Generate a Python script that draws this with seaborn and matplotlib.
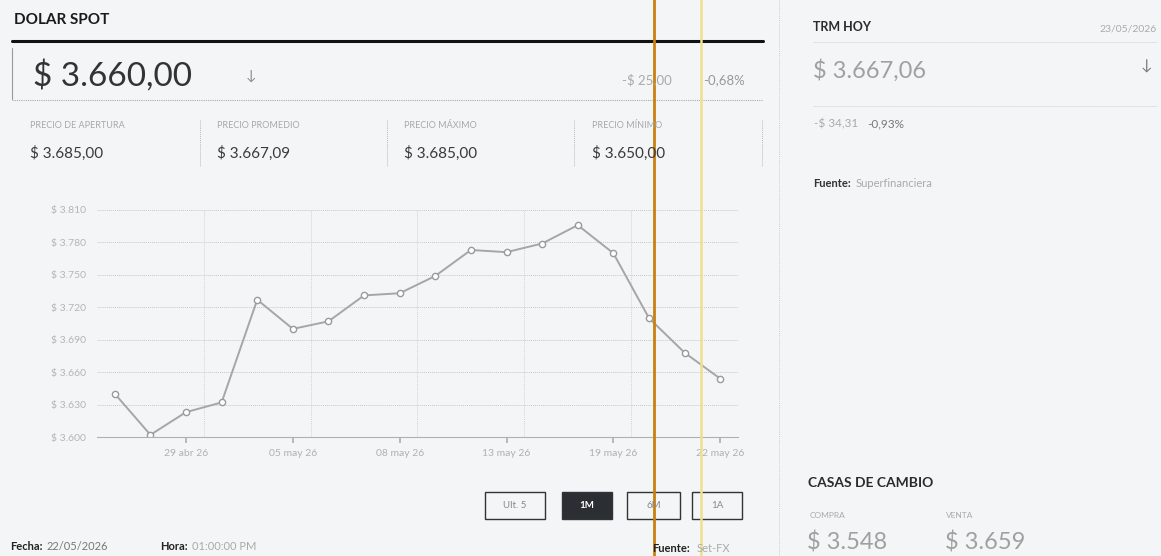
import numpy as np
import pandas as pd
import matplotlib
matplotlib.use("Agg")
import matplotlib.pyplot as plt
import seaborn as sns
from matplotlib.ticker import FuncFormatter, FixedLocator

# datos del grafico (1M)
fechas = ['27 abr 26', '28 abr 26', '29 abr 26', '30 abr 26', '04 may 26', '05 may 26',
          '06 may 26', '07 may 26', '08 may 26', '11 may 26', '12 may 26', '13 may 26',
          '14 may 26', '15 may 26', '19 may 26', '20 may 26', '21 may 26', '22 may 26']
precios = [3640, 3602, 3623, 3632, 3727, 3700, 3707, 3731, 3733, 3749, 3773, 3771,
           3779, 3796, 3770, 3710, 3678, 3654]
yticks = [3600, 3630, 3660, 3690, 3720, 3750, 3780, 3810]

stat_labels = ['PRECIO DE APERTURA', 'PRECIO PROMEDIO', 'PRECIO MÁXIMO', 'PRECIO MÍNIMO']
stat_values = ['$ 3.685,00', '$ 3.667,09', '$ 3.685,00', '$ 3.650,00']
botones = ['Ult. 5', '1M', '6M', '1A']

df = pd.DataFrame({'idx': range(len(precios)), 'precio': precios})

sns.set_theme(style='white')
plt.rcParams['font.family'] = ['Lato', 'DejaVu Sans']

W, H = 1161, 556
bg = '#f3f5f7'
fig = plt.figure(figsize=(W / 100, H / 100), dpi=100, facecolor=bg)

def fx(x):
    return x / W

def fy(y):
    return 1 - y / H

def hline(x0, x1, y, **kw):
    fig.add_artist(plt.Line2D([fx(x0), fx(x1)], [fy(y), fy(y)], transform=fig.transFigure, **kw))

def vline(x, y0, y1, **kw):
    fig.add_artist(plt.Line2D([fx(x), fx(x)], [fy(y0), fy(y1)], transform=fig.transFigure, **kw))

def txt(x, y, s, **kw):
    kw.setdefault('va', 'center')
    fig.text(fx(x), fy(y), s, **kw)

# ---- panel izquierdo: encabezado
txt(14, 20, 'DOLAR SPOT', fontsize=11, fontweight='bold', color='#1a1a1a')
hline(12, 763, 41, color='#111111', lw=2.2)
vline(12, 48, 99, color='#999999', lw=0.8)
hline(12, 763, 100, color='#aaaaaa', lw=0.8, ls=(0, (1, 1)))
txt(33, 76, '$ 3.660,00', fontsize=24, color='#333333')
txt(246, 76, '↓', fontsize=10, color='#888888')
txt(672, 80, '-$ 25,00', fontsize=9.5, color='#aaaaaa', ha='right')
txt(745, 80, '-0,68%', fontsize=9.5, color='#999999', ha='right')

xs = [30, 217, 404, 592]
for x, lab, val in zip(xs, stat_labels, stat_values):
    txt(x, 126, lab, fontsize=6.5, color='#a8a8a8')
    txt(x, 153, val, fontsize=11, color='#3a3a3a')
for x in [200, 387, 574, 762]:
    vline(x, 120, 166, color='#bbbbbb', lw=0.7, ls=(0, (1, 1)))

# ---- grafico
ax = fig.add_axes([fx(97), fy(437), fx(738 - 97), (437 - 210) / H])
ax.set_facecolor(bg)
sns.lineplot(data=df, x='idx', y='precio', ax=ax, color='#a6a6a6', lw=1.4,
             marker='o', markersize=4.5, markerfacecolor='white',
             markeredgecolor='#9a9a9a', markeredgewidth=1)
ax.set_xlim(-0.5, len(precios) - 0.5)
ax.set_ylim(yticks[0], yticks[-1])
ax.set_yticks(yticks)
ax.yaxis.set_major_formatter(FuncFormatter(lambda v, p: '$ ' + f'{int(v):,}'.replace(',', '.')))
pos = list(range(2, len(fechas), 3))
ax.set_xticks(pos)
ax.set_xticklabels([fechas[i] for i in pos])
ax.xaxis.set_minor_locator(FixedLocator([p + 0.5 for p in pos]))
ax.set_xlabel('')
ax.set_ylabel('')
ax.grid(True, axis='y', which='major', color='#c8c8c8', lw=0.7, ls=(0, (1, 1)))
ax.grid(True, axis='x', which='minor', color='#d4d4d4', lw=0.7, ls=(0, (1, 1)))
for s in ['top', 'right', 'left']:
    ax.spines[s].set_visible(False)
ax.spines['bottom'].set_color('#b0b0b0')
ax.spines['bottom'].set_linestyle((0, (1, 1)))
ax.spines['bottom'].set_linewidth(0.8)
ax.tick_params(axis='y', length=0, labelsize=7.5, labelcolor='#b5b5b5', pad=8)
ax.tick_params(axis='x', which='major', length=4, color='#b0b0b0', bottom=True,
               labelsize=7.5, labelcolor='#b0b0b0', pad=5)
ax.tick_params(axis='x', which='minor', length=0)

# ---- botones
bx = [(485, 545), (562, 612), (627, 680), (692, 742)]
for (x0, x1), b in zip(bx, botones):
    act = b == '1M'
    rect = plt.Rectangle((fx(x0), fy(519)), fx(x1 - x0), (519 - 492) / H,
                         transform=fig.transFigure, facecolor='#2b2f33' if act else bg,
                         edgecolor='#333333', lw=1)
    fig.add_artist(rect)
    txt((x0 + x1) / 2, 506, b, fontsize=7, ha='center',
        color='white' if act else '#888888', fontweight='bold' if act else 'normal')

txt(10, 547, 'Fecha:', fontsize=8, fontweight='bold', color='#222222')
txt(47, 547, '22/05/2026', fontsize=8, color='#777777')
txt(160, 547, 'Hora:', fontsize=8, fontweight='bold', color='#222222')
txt(192, 547, '01:00:00 PM', fontsize=8, color='#aaaaaa')
txt(652, 548, 'Fuente:', fontsize=8, fontweight='bold', color='#222222')
txt(697, 548, 'Set-FX', fontsize=8, color='#aaaaaa')

# ---- panel derecho
vline(779, 0, 556, color='#d0d0d0', lw=0.7, ls=(0, (1, 1)))
txt(813, 27, 'TRM HOY', fontsize=9, fontweight='bold', color='#2a2a2a')
txt(1157, 29, '23/05/2026', fontsize=7.5, color='#aaaaaa', ha='right')
hline(813, 1157, 42, color='#cccccc', lw=0.6, ls=(0, (1, 1)))
txt(813, 71, '$ 3.667,06', fontsize=17, color='#a0a0a0')
txt(1146, 66, '↓', fontsize=11, color='#777777', ha='center')
hline(813, 1157, 106, color='#cccccc', lw=0.6, ls=(0, (1, 1)))
txt(814, 124, '-$ 34,31', fontsize=8.5, color='#aaaaaa')
txt(867, 124, '-0,93%', fontsize=8.5, color='#777777')
txt(813, 184, 'Fuente:', fontsize=8, fontweight='bold', color='#333333')
txt(856, 184, 'Superfinanciera', fontsize=8, color='#aaaaaa')

txt(808, 483, 'CASAS DE CAMBIO', fontsize=10, fontweight='bold', color='#2a2a2a')
txt(810, 515, 'COMPRA', fontsize=6, color='#aaaaaa')
txt(946, 515, 'VENTA', fontsize=6, color='#aaaaaa')
txt(807, 542, '$ 3.548', fontsize=17, color='#a0a0a0')
txt(945, 542, '$ 3.659', fontsize=17, color='#a0a0a0')

# lineas del escaner
vline(654, 0, 556, color='#c8800f', lw=2)
vline(701, 0, 556, color='#efe08c', lw=1.8)

fig.savefig('out.png', dpi=100, facecolor=bg)
